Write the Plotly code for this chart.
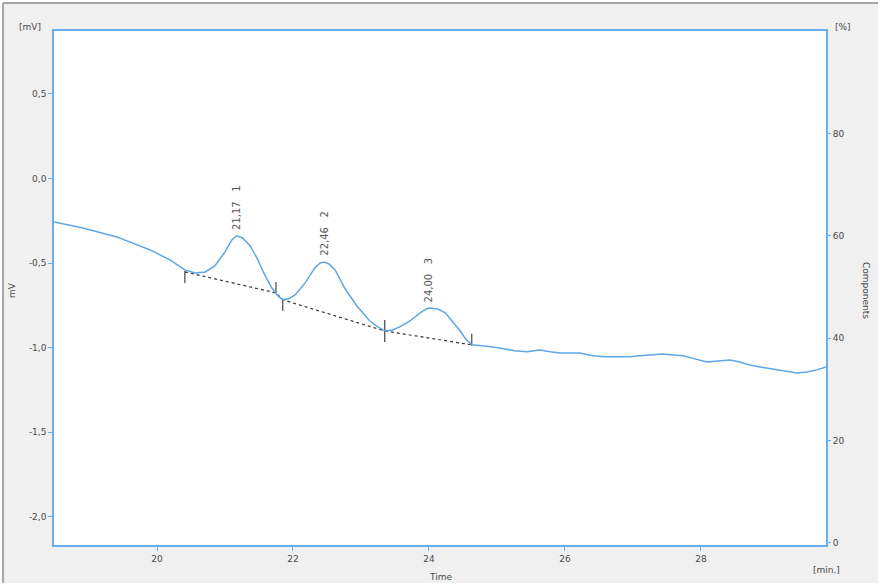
import plotly.graph_objects as go

# ---- data ----
time_min = [18.49, 18.91, 19.41, 19.90, 20.19, 20.41, 20.56, 20.71, 20.85, 21.00,
            21.10, 21.17, 21.26, 21.37, 21.47, 21.57, 21.69, 21.78, 21.85, 21.94,
            22.03, 22.18, 22.32, 22.40, 22.46, 22.53, 22.62, 22.76, 22.94, 23.13,
            23.25, 23.35, 23.46, 23.57, 23.72, 23.87, 23.96, 24.00, 24.13, 24.24,
            24.34, 24.46, 24.54, 24.63, 24.78, 24.94, 25.12, 25.26, 25.44, 25.63,
            25.78, 25.93, 26.07, 26.22, 26.41, 26.59, 26.76, 26.96, 27.10, 27.25,
            27.44, 27.59, 27.74, 27.91, 28.09, 28.25, 28.43, 28.57, 28.72, 28.94,
            29.12, 29.26, 29.41, 29.56, 29.71, 29.84]
signal_mv = [-0.257, -0.292, -0.345, -0.422, -0.481, -0.540, -0.558, -0.552, -0.517, -0.434,
             -0.363, -0.339, -0.351, -0.398, -0.469, -0.558, -0.647, -0.694, -0.717, -0.711,
             -0.688, -0.617, -0.528, -0.499, -0.493, -0.505, -0.540, -0.647, -0.753, -0.842,
             -0.877, -0.901, -0.895, -0.877, -0.842, -0.794, -0.771, -0.765, -0.771, -0.794,
             -0.842, -0.901, -0.948, -0.983, -0.989, -0.995, -1.007, -1.018, -1.024, -1.013,
             -1.024, -1.031, -1.031, -1.031, -1.048, -1.054, -1.054, -1.054, -1.048, -1.043,
             -1.037, -1.043, -1.048, -1.066, -1.084, -1.078, -1.072, -1.084, -1.102, -1.119,
             -1.131, -1.143, -1.149, -1.143, -1.131, -1.113]

peak_ids = ["1", "2", "3"]
peak_times = [21.17, 22.46, 24.00]
peak_heights = [-0.339, -0.493, -0.765]

peak_start_t = [20.41, 21.85, 23.35]
peak_start_v = [-0.552, -0.717, -0.901]
peak_end_t = [21.75, 23.35, 24.63]
peak_end_v = [-0.676, -0.901, -0.983]

y_ticks = [0.5, 0.0, -0.5, -1.0, -1.5, -2.0]
y_ticklabels = ["0,5", "0,0", "-0,5", "-1,0", "-1,5", "-2,0"]
x_ticks = [20, 22, 24, 26, 28]
pct_ticks = [0, 20, 40, 60, 80]

# ---- styling ----
BLUE = "#5ea6e6"
AXBLUE = "#6aaeea"
TXT = "#4a4a4a"
FONT = "DejaVu Sans"

fig = go.Figure()

# baseline (dotted), through peak start/end points
bx, by = [], []
for s_t, s_v, e_t, e_v in zip(peak_start_t, peak_start_v, peak_end_t, peak_end_v):
    bx += [s_t, e_t]
    by += [s_v, e_v]
fig.add_trace(go.Scatter(x=bx, y=by, mode="lines",
                         line=dict(color="#333333", width=1.2, dash="dot"),
                         hoverinfo="skip", showlegend=False))

# peak boundary tick marks
tick_h = 0.065
tx, ty = [], []
for s_t, s_v in zip(peak_start_t, peak_start_v):
    tx += [s_t, s_t, None]
    ty += [s_v - tick_h, s_v + 0.005, None]
for e_t, e_v in zip(peak_end_t, peak_end_v):
    tx += [e_t, e_t, None]
    ty += [e_v + tick_h, e_v - 0.005, None]
fig.add_trace(go.Scatter(x=tx, y=ty, mode="lines",
                         line=dict(color="#333333", width=1.1),
                         hoverinfo="skip", showlegend=False))

# signal
fig.add_trace(go.Scatter(x=time_min, y=signal_mv, mode="lines",
                         line=dict(color=BLUE, width=1.5),
                         showlegend=False))

# invisible trace for the right axis
fig.add_trace(go.Scatter(x=[time_min[0]], y=[0], yaxis="y2", mode="markers",
                         marker=dict(opacity=0), hoverinfo="skip", showlegend=False))

annotations = []
for pid, t, h in zip(peak_ids, peak_times, peak_heights):
    annotations.append(dict(x=t, y=h, xref="x", yref="y",
                            text=f"{t:.2f}".replace(".", ",") + "\u00a0\u00a0\u00a0" + pid,
                            textangle=-90, showarrow=False,
                            xanchor="center", yanchor="bottom", yshift=4,
                            font=dict(family=FONT, size=10, color="#555555")))

def pa(text, x, y, angle=0, xa="center", ya="middle", size=9):
    annotations.append(dict(text=text, x=x, y=y, xref="paper", yref="paper",
                            showarrow=False, textangle=angle, xanchor=xa, yanchor=ya,
                            font=dict(family=FONT, size=size, color=TXT)))

pa("[mV]", (30 - 54) / 772, (545 - 27) / 514)
pa("[%]", (843 - 54) / 772, (545 - 27) / 514)
pa("mV", (12 - 54) / 772, (545 - 290) / 514, angle=-90)
pa("Components", (866 - 54) / 772, (545 - 290) / 514, angle=90)
pa("Time", (440 - 54) / 772, (545 - 577) / 514)
pa("[min.]", (826 - 54) / 772, (545 - 570) / 514)

shapes = [
    dict(type="rect", xref="paper", yref="paper", layer="below",
         x0=(3 - 54) / 772, x1=(878 - 54) / 772, y0=(545 - 583) / 514, y1=(545 - 3) / 514,
         fillcolor="#f0f0f0", line=dict(width=0)),
    dict(type="rect", xref="paper", yref="paper", layer="below",
         x0=0, x1=1, y0=0, y1=1, fillcolor="white", line=dict(width=0)),
    dict(type="line", xref="paper", yref="paper",
         x0=(3 - 54) / 772, x1=(878 - 54) / 772, y0=(545 - 3) / 514, y1=(545 - 3) / 514,
         line=dict(color="#8c8c8c", width=1.5)),
    dict(type="line", xref="paper", yref="paper",
         x0=(3 - 54) / 772, x1=(3 - 54) / 772, y0=(545 - 583) / 514, y1=(545 - 3) / 514,
         line=dict(color="#8c8c8c", width=1.5)),
]

fig.update_layout(
    width=884, height=585,
    margin=dict(l=54, r=58, t=31, b=40),
    paper_bgcolor="white",
    plot_bgcolor="white",
    font=dict(family=FONT, size=9, color=TXT),
    xaxis=dict(range=[18.485, 29.84], tickvals=x_ticks, ticktext=[str(v) for v in x_ticks],
               showgrid=False, zeroline=False, showline=True, linecolor=AXBLUE, linewidth=1.5,
               mirror=True, ticks="outside", ticklen=4, tickcolor=AXBLUE,
               tickfont=dict(family=FONT, size=9, color=TXT)),
    yaxis=dict(range=[-2.166, 0.872], tickvals=y_ticks, ticktext=y_ticklabels,
               showgrid=False, zeroline=False, showline=True, linecolor=AXBLUE, linewidth=1.5,
               mirror=True, ticks="outside", ticklen=4, tickcolor=AXBLUE,
               tickfont=dict(family=FONT, size=9, color=TXT)),
    yaxis2=dict(range=[-0.4, 100], overlaying="y", side="right", tickvals=pct_ticks,
                ticktext=[str(v) for v in pct_ticks],
                showgrid=False, zeroline=False, showline=False,
                ticks="outside", ticklen=4, tickcolor=AXBLUE,
                tickfont=dict(family=FONT, size=9, color=TXT)),
    annotations=annotations,
    shapes=shapes,
)

fig.write_html("out.html", config={"displayModeBar": False},
               post_script="document.body.style.margin='0';document.body.style.overflow='hidden';")
